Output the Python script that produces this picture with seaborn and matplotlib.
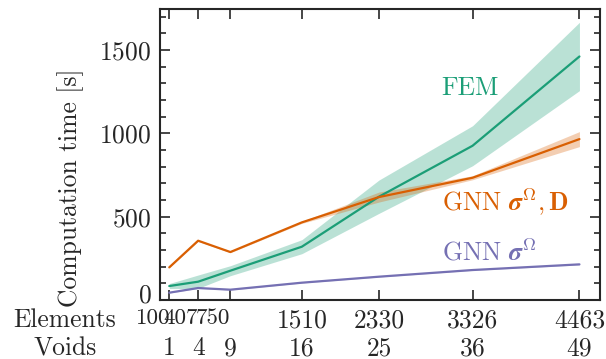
import numpy as np
import matplotlib
matplotlib.use("Agg")
import matplotlib.pyplot as plt
from matplotlib.ticker import MultipleLocator
import matplotlib.transforms as mtransforms
import seaborn as sns

# Data
elements = [100, 407, 750, 1510, 2330, 3326, 4463]
voids = [1, 4, 9, 16, 25, 36, 49]

fem_mean = [84, 110, 176, 320, 620, 926, 1462]
fem_std = [15, 40, 30, 42, 100, 120, 205]

gnn_sd_mean = [196, 356, 288, 466, 618, 734, 966]
gnn_sd_std = [3, 4, 4, 6, 30, 12, 45]

gnn_s_mean = [44, 72, 62, 104, 140, 180, 214]
gnn_s_std = [2, 2, 2, 2, 2, 2, 3]

sns.set_style("ticks")
plt.rcParams["font.family"] = ["cmr10", "DejaVu Sans"]
plt.rcParams["mathtext.fontset"] = "cm"
plt.rcParams["axes.formatter.use_mathtext"] = True
plt.rcParams["font.size"] = 18.4

colors = sns.color_palette("Dark2", 3)
c_fem, c_sd, c_s = colors[0], colors[1], colors[2]

fig, ax = plt.subplots(figsize=(6.06, 3.59), dpi=100)
fig.subplots_adjust(left=0.2638, right=0.990, top=0.974, bottom=0.1643)

x = np.array(elements)
series = [
    (fem_mean, fem_std, c_fem),
    (gnn_sd_mean, gnn_sd_std, c_sd),
    (gnn_s_mean, gnn_s_std, c_s),
]
for mean, std, col in series:
    mean = np.array(mean)
    std = np.array(std)
    ax.fill_between(x, mean - std, mean + std, color=col, alpha=0.3, linewidth=0)
    sns.lineplot(x=x, y=mean, color=col, linewidth=1.6, ax=ax)

# Inline series labels
ax.text(2996, 1230, "FEM", color=c_fem, ha="left", va="baseline")
ax.text(2996, 540, r"GNN $\mathbfit{\sigma}^{\Omega}, \mathbf{D}$", color=c_sd,
        ha="left", va="baseline")
ax.text(2996, 240, r"GNN $\mathbfit{\sigma}^{\Omega}$", color=c_s,
        ha="left", va="baseline")

ax.set_xlim(0, 4681)
ax.set_ylim(0, 1745)
ax.yaxis.set_major_locator(MultipleLocator(500))
ax.yaxis.set_minor_locator(MultipleLocator(100))

ax.set_xticks(elements)
ax.set_xticklabels([str(e) for e in elements])
# first three element labels are crowded: right-align them, a bit narrower
shifts = [-5, -1, 1]
for lab, dx in zip(ax.get_xticklabels()[:3], shifts):
    lab.set_ha("right")
    lab.set_fontsize(16.6)
    lab.set_transform(lab.get_transform()
                      + mtransforms.ScaledTranslation(dx / 100, -1.5 / 100, fig.dpi_scale_trans))

ax.tick_params(which="both", direction="in", top=True, right=True, width=1.2)
ax.tick_params(which="major", length=7, pad=6)
ax.tick_params(which="minor", length=4)
for sp in ax.spines.values():
    sp.set_linewidth(1.5)

# the "0" label sits slightly above the bottom spine
ylocs = list(ax.yaxis.get_majorticklocs())
ylab0 = ax.yaxis.get_major_ticks()[ylocs.index(0)].label1
ylab0.set_transform(ylab0.get_transform()
                    + mtransforms.ScaledTranslation(0, 7 / 100, fig.dpi_scale_trans))

# Second row of x labels: number of voids
pad_px = 6 * 100 / 72
row_gap = 28
for e, v in zip(elements, voids):
    ax.annotate(str(v), xy=(e, 0), xycoords=ax.get_xaxis_transform(),
                xytext=(0, -pad_px - row_gap), textcoords="offset pixels",
                ha="center", va="top")
xc = (65 - 159.85) / (600 - 159.85)
ax.annotate("Elements", xy=(xc, 0), xycoords="axes fraction",
            xytext=(0, -pad_px), textcoords="offset pixels", ha="center", va="top")
ax.annotate("Voids", xy=(xc, 0), xycoords="axes fraction",
            xytext=(0, -pad_px - row_gap), textcoords="offset pixels", ha="center", va="top")

ax.set_xlabel("")
ax.set_ylabel("Computation time [s]")
ax.yaxis.set_label_coords(-0.172, 0.385)

fig.savefig("out.png", dpi=100)
